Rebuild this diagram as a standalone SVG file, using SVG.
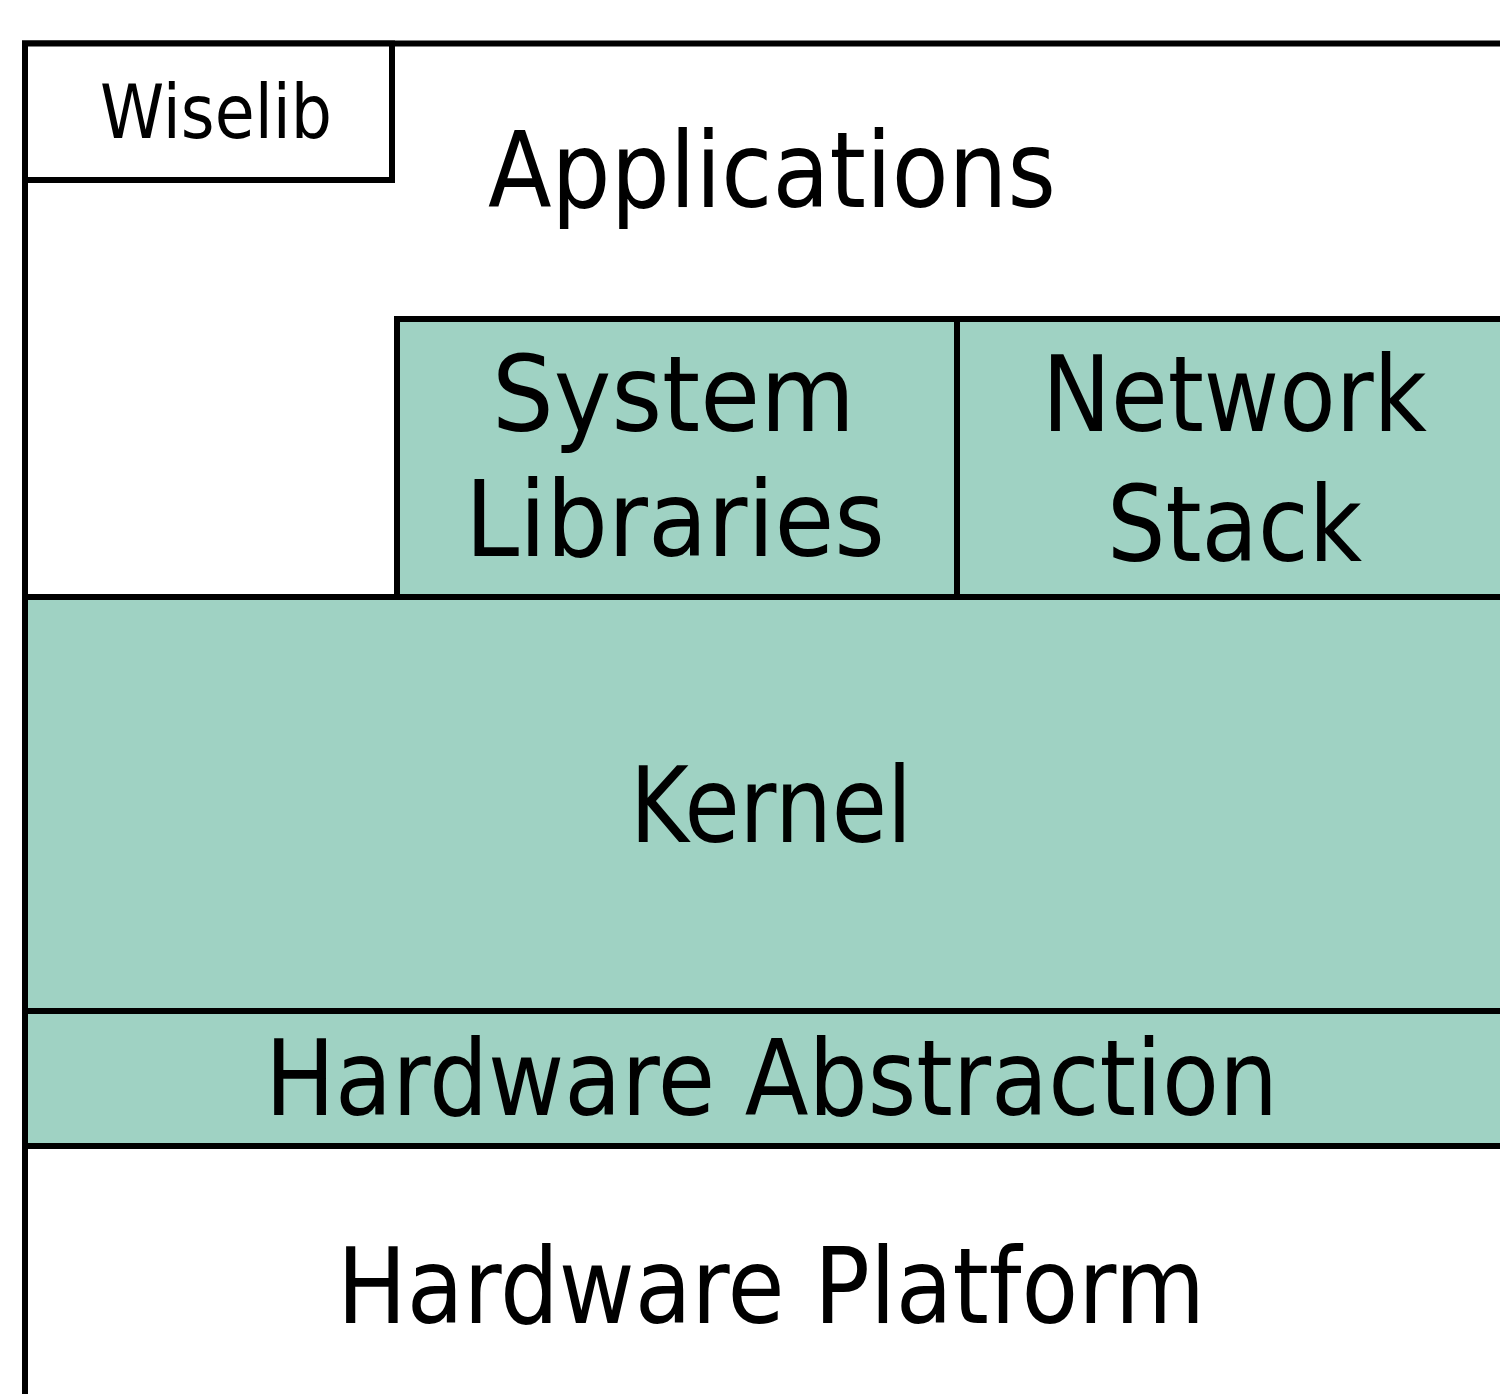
<svg xmlns="http://www.w3.org/2000/svg" width="1500" height="1394" viewBox="0 0 1500 1394">
  <style>
    .box { stroke: #000; stroke-width: 6; }
    .white { fill: #fff; }
    .green { fill: #9fd2c3; }
    .lbl { font-family: "DejaVu Sans", "Liberation Sans", sans-serif; fill: #000; text-anchor: middle; }
    .big { font-size: 106px; }
    .small { font-size: 75px; }
  </style>
  <rect x="0" y="0" width="1500" height="1394" fill="#fff"/>
  <g id="applications">
    <rect class="box white" x="25" y="43.5" width="1492" height="1400"/>
    <text class="lbl big" x="772" y="207" textLength="568" lengthAdjust="spacingAndGlyphs">Applications</text>
  </g>
  <g id="wiselib">
    <rect class="box white" x="25" y="43.5" width="367" height="136.5"/>
    <text class="lbl small" x="216" y="138" textLength="232" lengthAdjust="spacingAndGlyphs">Wiselib</text>
  </g>
  <g id="system-libraries">
    <rect class="box green" x="397" y="319" width="560" height="278"/>
    <text class="lbl big" x="673.5" y="431" textLength="363" lengthAdjust="spacingAndGlyphs">System</text>
    <text class="lbl big" x="675" y="556" textLength="420" lengthAdjust="spacingAndGlyphs">Libraries</text>
  </g>
  <g id="network-stack">
    <rect class="box green" x="957" y="319" width="560" height="278"/>
    <text class="lbl big" x="1234.5" y="431" textLength="385" lengthAdjust="spacingAndGlyphs">Network</text>
    <text class="lbl big" x="1234.5" y="561" textLength="255" lengthAdjust="spacingAndGlyphs">Stack</text>
  </g>
  <g id="kernel">
    <rect class="box green" x="25" y="597" width="1492" height="414"/>
    <text class="lbl big" x="771" y="842" textLength="282" lengthAdjust="spacingAndGlyphs">Kernel</text>
  </g>
  <g id="hardware-abstraction">
    <rect class="box green" x="25" y="1011" width="1492" height="135"/>
    <text class="lbl big" x="771.5" y="1115" textLength="1013" lengthAdjust="spacingAndGlyphs">Hardware Abstraction</text>
  </g>
  <g id="hardware-platform">
    <rect class="box white" x="25" y="1146" width="1492" height="300"/>
    <text class="lbl big" x="771" y="1323" textLength="868" lengthAdjust="spacingAndGlyphs">Hardware Platform</text>
  </g>
  <g id="connectors"/>
</svg>
